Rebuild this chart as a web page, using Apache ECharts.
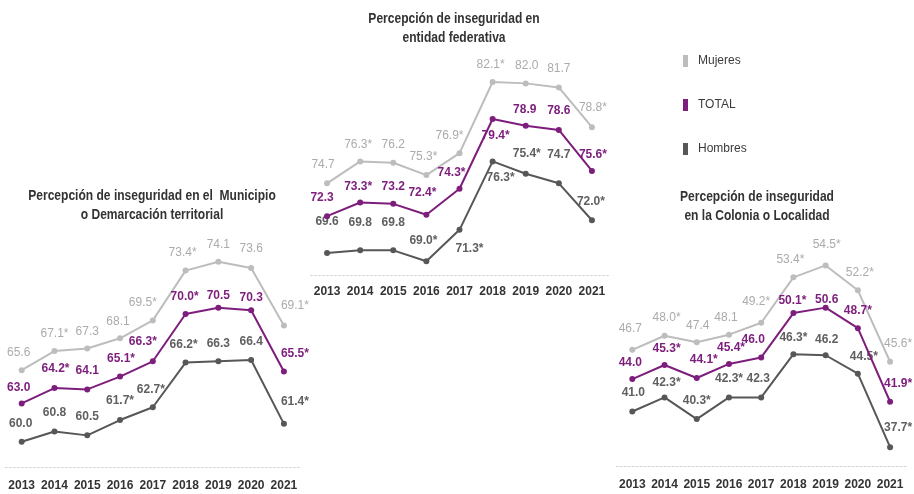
<!DOCTYPE html>
<html><head><meta charset="utf-8">
<script src="https://cdn.jsdelivr.net/npm/echarts@6/dist/echarts.min.js"></script>
<style>html,body{margin:0;padding:0;background:#fff}#c{width:914px;height:494px}</style>
</head><body><div id="c"></div>
<script>
// ---------- DATA ----------
const years = ['2013','2014','2015','2016','2017','2018','2019','2020','2021'];
const seriesNames = ['Mujeres','TOTAL','Hombres'];

// Entidad federativa
const mujeresEnt = [74.7,76.3,76.2,75.3,76.9,82.1,82.0,81.7,78.8];
const totalEnt   = [72.3,73.3,73.2,72.4,74.3,79.4,78.9,78.6,75.6];
const hombresEnt = [69.6,69.8,69.8,69.0,71.3,76.3,75.4,74.7,72.0];
const mujeresEntStar = [0,1,0,1,1,1,0,0,1];
const totalEntStar   = [0,1,0,1,1,1,0,0,1];
const hombresEntStar = [0,0,0,1,1,1,1,0,1];

// Municipio o Demarcación territorial
const mujeresMun = [65.6,67.1,67.3,68.1,69.5,73.4,74.1,73.6,69.1];
const totalMun   = [63.0,64.2,64.1,65.1,66.3,70.0,70.5,70.3,65.5];
const hombresMun = [60.0,60.8,60.5,61.7,62.7,66.2,66.3,66.4,61.4];
const mujeresMunStar = [0,1,0,0,1,1,0,0,1];
const totalMunStar   = [0,1,0,1,1,1,0,0,1];
const hombresMunStar = [0,0,0,1,1,1,0,0,1];

// Colonia o Localidad
const mujeresCol = [46.7,48.0,47.4,48.1,49.2,53.4,54.5,52.2,45.6];
const totalCol   = [44.0,45.3,44.1,45.4,46.0,50.1,50.6,48.7,41.9];
const hombresCol = [41.0,42.3,40.3,42.3,42.3,46.3,46.2,44.5,37.7];
const mujeresColStar = [0,1,0,0,1,1,1,1,1];
const totalColStar   = [0,1,1,1,0,1,0,1,1];
const hombresColStar = [0,1,1,1,0,1,0,1,1];

const titleEnt = 'Percepción de inseguridad en\nentidad federativa';
const titleMun = 'Percepción de inseguridad en el  Municipio\no Demarcación territorial';
const titleCol = 'Percepción de inseguridad\nen la Colonia o Localidad';

// ---------- LAYOUT / STYLE ----------
const FONT = "'Liberation Sans',Arial,sans-serif";
const colors = {Mujeres:'#bdbdbd', TOTAL:'#7d1d7c', Hombres:'#575757'};
const labelColors = {Mujeres:'#ababab', TOTAL:'#7d1d7c', Hombres:'#606060'};
const labelWeights = {Mujeres:'normal', TOTAL:'bold', Hombres:'bold'};

const grids = [
  {left:310.5, width:298, top:56, height:219},      // entidad
  {left:5.3, width:295, top:237.4, height:229.9},   // municipio
  {left:616.2, width:290, top:249.2, height:217.5}  // colonia
];
const yRanges = [[68,84],[58,76],[35.9,56]];
const labelMargins = [11,12,12];

const offsEnt = [
  [[-4,-19],[-2,-17],[0,-18],[-3,-18],[-10,-17],[-2,-17],[1,-18],[0,-19],[1,-19]],
  [[-5,-18],[-2,-16],[0,-17],[-4,-22],[-8,-16],[3,17],[-1,-16],[0,-19],[1,-16]],
  [[0,-31],[0,-28],[0,-28],[-3,-21],[10,19],[8,16],[1,-20],[0,-29],[-1,-19]]
];
const offsMun = [
  [[-3,-18],[0,-17],[0,-17],[-2,-17],[-10,-18],[-3,-18],[0,-17],[0,-19],[11,-20]],
  [[-3,-16],[1,-19],[0,-19],[1,-18],[-10,-20],[-1,-17],[0,-12],[0,-13],[11,-18]],
  [[-1,-18],[0,-19],[0,-19],[0,-19],[-2,-18],[-2,-18],[0,-18],[0,-18],[11,-22]]
];
const offsCol = [
  [[-2,-21],[2,-18],[1,-17],[-3,-17],[-5,-21],[-3,-18],[1,-21],[2,-18],[8,-18]],
  [[-2,-16],[2,-16],[7,-18],[2,-16],[-8,-18],[-1,-12],[1,-8],[0,-18],[8,-18]],
  [[1,-19],[2,-15],[0,-18],[0,-19],[-3,-19],[0,-16],[1,-16],[6,-17],[8,-20]]
];

const panels = [
  {vals:[mujeresEnt,totalEnt,hombresEnt], stars:[mujeresEntStar,totalEntStar,hombresEntStar], offs:offsEnt},
  {vals:[mujeresMun,totalMun,hombresMun], stars:[mujeresMunStar,totalMunStar,hombresMunStar], offs:offsMun},
  {vals:[mujeresCol,totalCol,hombresCol], stars:[mujeresColStar,totalColStar,hombresColStar], offs:offsCol}
];

const series = [];
panels.forEach((p, gi) => {
  seriesNames.forEach((name, si) => {
    const stars = p.stars[si];
    series.push({
      name, type:'line', xAxisIndex:gi, yAxisIndex:gi,
      symbol:'circle', symbolSize:6,
      lineStyle:{color:colors[name], width:2},
      itemStyle:{color:colors[name]},
      z: si===1 ? 4 : 3,
      label:{show:true, position:'inside', color:labelColors[name], fontFamily:FONT,
        fontSize:12, fontWeight:labelWeights[name],
        formatter: q => q.value.toFixed(1) + (stars[q.dataIndex] ? '*' : '')},
      data: p.vals[si].map((v,k) => ({value:v, label:{offset:p.offs[si][k]}}))
    });
  });
});

const titleStyle = t => ({text:t, align:'center', verticalAlign:'top', fill:'#333', font:'bold 14px '+FONT, lineHeight:19});

const chart = echarts.init(document.getElementById('c'), null, {renderer:'canvas'});
chart.setOption({
  backgroundColor:'#fff',
  animation:false,
  grid: grids,
  xAxis: grids.map((g,i) => ({
    type:'category', gridIndex:i, data:years, boundaryGap:true,
    axisTick:{show:false},
    axisLine:{show:true, lineStyle:{color:'#d6d6d6', width:1, type:[2,2]}},
    axisLabel:{interval:0, color:'#333', fontFamily:FONT, fontSize:12, fontWeight:'bold', margin:labelMargins[i]},
    splitLine:{show:false}
  })),
  yAxis: grids.map((g,i) => ({
    type:'value', gridIndex:i, min:yRanges[i][0], max:yRanges[i][1], show:false, splitLine:{show:false}
  })),
  legend:{
    data:seriesNames, orient:'vertical', left:678, top:49,
    icon:'rect', itemWidth:5, itemHeight:12, itemGap:30,
    textStyle:{color:'#3a3a3a', fontFamily:FONT, fontSize:12, lineHeight:14, padding:[0,0,0,5]}
  },
  graphic: [
    {type:'text', x:454, y:10, scaleX:0.86, style:titleStyle(titleEnt)},
    {type:'text', x:152, y:187, scaleX:0.86, style:titleStyle(titleMun)},
    {type:'text', x:757, y:188, scaleX:0.86, style:titleStyle(titleCol)}
  ],
  series
});
</script></body></html>
